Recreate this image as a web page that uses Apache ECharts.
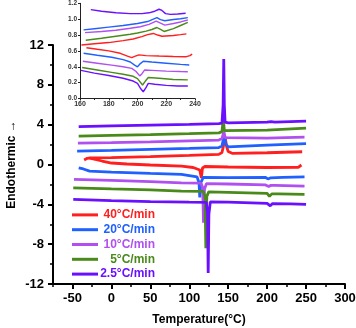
<!DOCTYPE html>
<html>
<head>
<meta charset="utf-8">
<script src="https://cdn.jsdelivr.net/npm/echarts@6/dist/echarts.min.js"></script>
<style>html,body{margin:0;padding:0;background:#fff}#c{width:356px;height:328px}</style>
</head>
<body>
<div id="c"></div>
<script>
// ---- data ----
const seriesNames = ['40\u00B0C/min', '20\u00B0C/min', '10\u00B0C/min', '5\u00B0C/min', '2.5\u00B0C/min'];
const seriesColors = ['#ff1f1f', '#2060ff', '#b050f0', '#4a8a1a', '#6a10ff'];
const xTicks = [-50, 0, 50, 100, 150, 200, 250, 300];
const yTicks = [-12, -8, -4, 0, 4, 8, 12];

// main: heating curves (upper group)
const heat40 = [[-35,0.45],[-31,0.62],[-27,0.67],[0,0.7],[50,0.8],[100,0.92],[138,1.02],[142,1.2],[144,1.9],[146,2.8],[148,1.8],[150,1.3],[155,1.12],[200,1.18],[245,1.28]];
const heat20 = [[-44,1.34],[0,1.42],[50,1.52],[100,1.62],[138,1.7],[142,1.85],[145,3.0],[147,2.0],[150,1.78],[200,1.95],[250,2.1]];
const heat10 = [[-43,2.15],[0,2.2],[50,2.28],[100,2.38],[138,2.45],[142,2.6],[144.5,3.3],[146,2.7],[148,2.55],[200,2.65],[248,2.75]];
const heat5 = [[-42,2.85],[0,2.92],[50,3.0],[100,3.1],[138,3.18],[142,3.3],[143.8,4.6],[145,3.4],[147,3.28],[200,3.45],[250,3.65]];
const heat25 = [[-42,3.8],[0,3.88],[50,3.95],[100,4.02],[138,4.1],[142,4.15],[143.5,6],[144.3,10.6],[145,6],[146,4.25],[150,4.17],[200,4.25],[205,4.3],[210,4.25],[250,4.35]];

// main: cooling curves (lower group)
const cool40 = [[244,-0.05],[240,-0.28],[200,-0.3],[150,-0.25],[120,-0.2],[117,-0.35],[115.5,-1.35],[113.5,-0.55],[105,-0.3],[90,-0.17],[50,-0.05],[20,0.05],[0,0.15],[-12,0.35],[-22,0.55],[-28,0.65]];
const cool20 = [[248,-1.25],[220,-1.3],[204,-1.35],[201,-1.45],[198,-1.3],[150,-1.32],[118,-1.3],[115,-1.8],[113.5,-3.3],[112.5,-1.8],[110,-1.25],[90,-1.0],[50,-0.9],[0,-0.77],[-28,-0.67],[-36,-0.45],[-42,-0.33]];
const cool10 = [[248,-2.18],[210,-2.1],[205,-2.1],[202,-2.2],[198,-2.05],[150,-1.96],[122,-1.92],[119.5,-2.5],[118.3,-5.85],[117.2,-2.3],[115,-1.88],[90,-1.84],[50,-1.72],[0,-1.6],[-48,-1.5]];
const cool5 = [[248,-3.0],[215,-2.95],[206,-2.95],[203,-3.2],[200,-2.9],[150,-2.8],[125,-2.75],[122.5,-3.2],[121.3,-8.4],[120.3,-3.2],[118,-2.7],[90,-2.68],[50,-2.55],[0,-2.45],[-49,-2.34]];
const cool25 = [[250,-4.0],[230,-3.95],[207,-3.92],[204,-4.15],[200,-3.9],[150,-3.78],[127,-3.75],[125.2,-5],[124.3,-10.9],[123.5,-5],[122,-3.8],[100,-3.78],[50,-3.72],[0,-3.62],[-49,-3.5]];

// inset: upper group
const inUp40 = [[161,0.675],[170,0.69],[180,0.705],[190,0.73],[197,0.75],[203,0.78],[207,0.805],[211,0.82],[214,0.8],[217,0.785],[225,0.795],[230,0.805],[234,0.815]];
const inUp20 = [[162.5,0.865],[170,0.88],[180,0.9],[190,0.92],[200,0.945],[207,0.97],[211,1.0],[213.5,1.02],[216,0.995],[219,0.98],[225,0.995],[230,1.005],[235,1.02]];
const inUp10 = [[163.5,0.83],[175,0.845],[185,0.86],[195,0.885],[202,0.905],[208,0.935],[213,0.975],[216,0.95],[219,0.925],[225,0.945],[230,0.965],[235,0.99]];
const inUp5 = [[164,0.735],[175,0.76],[185,0.785],[195,0.81],[200,0.825],[206,0.85],[210,0.87],[213.5,0.895],[216,0.87],[218.5,0.845],[225,0.88],[230,0.92],[235,0.96]];
const inUp25 = [[167.5,1.12],[175,1.1],[185,1.08],[195,1.07],[203,1.07],[208,1.08],[212,1.1],[215,1.125],[217,1.11],[219.5,1.07],[223,1.06],[228,1.065],[233.5,1.075]];
// inset: lower group
const inLo40 = [[164.5,0.64],[172,0.62],[180,0.6],[188,0.57],[193,0.535],[196,0.515],[198,0.53],[201,0.55],[206,0.54],[215,0.535],[225,0.53],[234,0.527],[236.5,0.54],[238,0.56]];
const inLo20 = [[162.5,0.57],[172,0.545],[182,0.52],[190,0.49],[195,0.46],[198,0.42],[200,0.4],[202,0.44],[204,0.47],[210,0.46],[220,0.445],[230,0.43],[236,0.423]];
const inLo10 = [[162,0.47],[172,0.445],[182,0.42],[190,0.4],[196,0.38],[199,0.34],[201.5,0.285],[203,0.31],[205,0.36],[210,0.355],[220,0.345],[230,0.34],[235,0.338]];
const inLo5 = [[161.5,0.39],[172,0.36],[182,0.33],[190,0.305],[197,0.28],[200,0.25],[203.5,0.17],[205.5,0.22],[207.5,0.265],[215,0.255],[225,0.24],[235,0.235]];
const inLo25 = [[160.7,0.355],[170,0.32],[180,0.29],[190,0.255],[197,0.22],[200,0.19],[202,0.13],[204,0.085],[206,0.14],[207.5,0.19],[212,0.18],[220,0.165],[228,0.158],[235,0.158]];

const mainHeat = [heat40, heat20, heat10, heat5, heat25];
const mainCool = [cool40, cool20, cool10, cool5, cool25];
const insetUp = [inUp40, inUp20, inUp10, inUp5, inUp25];
const insetLo = [inLo40, inLo20, inLo10, inLo5, inLo25];

// ---- chart ----
const chart = echarts.init(document.getElementById('c'), null, {renderer: 'canvas'});
const FONT = 'Liberation Sans, Arial, sans-serif';
const LH = 13.8;
const series = [];
for (let i = 0; i < 5; i++) {
  [mainCool[i], mainHeat[i]].forEach(d => series.push({
    name: seriesNames[i], type: 'line', xAxisIndex: 0, yAxisIndex: 0, data: d,
    showSymbol: false, symbol: 'none', lineStyle: {width: 2.8, color: seriesColors[i]}, itemStyle: {color: seriesColors[i]},
    z: 2 + i, silent: true
  }));
}
for (let i = 0; i < 5; i++) {
  [insetUp[i], insetLo[i]].forEach(d => series.push({
    name: seriesNames[i], type: 'line', xAxisIndex: 2, yAxisIndex: 1, data: d,
    showSymbol: false, symbol: 'none', lineStyle: {width: 1.4, color: seriesColors[i]}, itemStyle: {color: seriesColors[i]},
    z: 2 + i, silent: true
  }));
}

const option = {
  animation: false,
  backgroundColor: '#fff',
  textStyle: {fontFamily: FONT},
  grid: [
    {left: 53, right: 11, top: 45, bottom: 44, containLabel: false, outerBoundsMode: 'none'},
    {left: 80, top: 3.3, width: 115, height: 95.2, containLabel: false, outerBoundsMode: 'none'}
  ],
  legend: {
    orient: 'vertical', left: 67, top: 203,
    icon: 'rect', itemWidth: 26, itemHeight: 3, itemGap: 1,
    data: seriesNames.map((n, i) => ({
      name: n,
      textStyle: {color: seriesColors[i], rich: {a: {width: 52, align: 'right', color: seriesColors[i], fontWeight: 'bold', fontSize: 12, lineHeight: LH, fontFamily: FONT}}}
    })),
    formatter: n => '{a|' + n + '}',
    textStyle: {fontWeight: 'bold', fontSize: 12, lineHeight: LH, fontFamily: FONT},
    selectedMode: false
  },
  xAxis: [
    {
      type: 'value', gridIndex: 0, min: -75, max: 300, interval: 25,
      name: 'Temperature(\u00B0C)', nameLocation: 'middle', nameGap: 30, nameMoveOverlap: false,
      nameTextStyle: {fontWeight: 'bold', fontSize: 12, color: '#000', fontFamily: FONT},
      axisLine: {show: true, onZero: false, lineStyle: {color: '#000', width: 2}},
      axisTick: {show: true, length: 5, lineStyle: {width: 2, color: '#000'}, customValues: xTicks},
      axisLabel: {fontWeight: 'bold', fontSize: 13, color: '#000', margin: 8, customValues: xTicks, fontFamily: FONT},
      splitLine: {show: false}
    },
    {
      type: 'value', gridIndex: 0, min: -75, max: 300, interval: 25, position: 'bottom',
      axisLine: {show: false, onZero: false},
      axisTick: {show: true, length: 3, lineStyle: {width: 1.5, color: '#000'}},
      axisLabel: {show: false}, splitLine: {show: false}
    },
    {
      type: 'value', gridIndex: 1, min: 160, max: 240, interval: 20,
      axisLine: {show: true, onZero: false, lineStyle: {color: '#222', width: 1}},
      axisTick: {show: true, length: 2, lineStyle: {width: 1, color: '#222'}},
      minorTick: {show: true, splitNumber: 2, length: 1.5, lineStyle: {color: '#222'}},
      axisLabel: {fontSize: 7, fontWeight: 'bold', color: '#333', margin: 2, fontFamily: FONT},
      splitLine: {show: false}
    }
  ],
  yAxis: [
    {
      type: 'value', gridIndex: 0, min: -12, max: 12, interval: 4,
      name: 'Endothermic \u2192', nameLocation: 'middle', nameGap: 35, nameMoveOverlap: false,
      nameTextStyle: {fontWeight: 'bold', fontSize: 12, color: '#000', fontFamily: FONT},
      axisLine: {show: true, onZero: false, lineStyle: {color: '#000', width: 2}},
      axisTick: {show: true, length: 5, lineStyle: {width: 2, color: '#000'}},
      minorTick: {show: true, splitNumber: 2, length: 3, lineStyle: {width: 1.5, color: '#000'}},
      axisLabel: {fontWeight: 'bold', fontSize: 13, color: '#000', margin: 9, fontFamily: FONT},
      splitLine: {show: false}
    },
    {
      type: 'value', gridIndex: 1, min: 0, max: 1.2, interval: 0.2,
      axisLine: {show: true, onZero: false, lineStyle: {color: '#222', width: 1}},
      axisTick: {show: true, length: 2, lineStyle: {width: 1, color: '#222'}},
      axisLabel: {fontSize: 6.5, fontWeight: 'bold', color: '#333', margin: 3, formatter: v => v.toFixed(1), fontFamily: FONT},
      splitLine: {show: false}
    }
  ],
  series: series
};
chart.setOption(option);
</script>
</body>
</html>
